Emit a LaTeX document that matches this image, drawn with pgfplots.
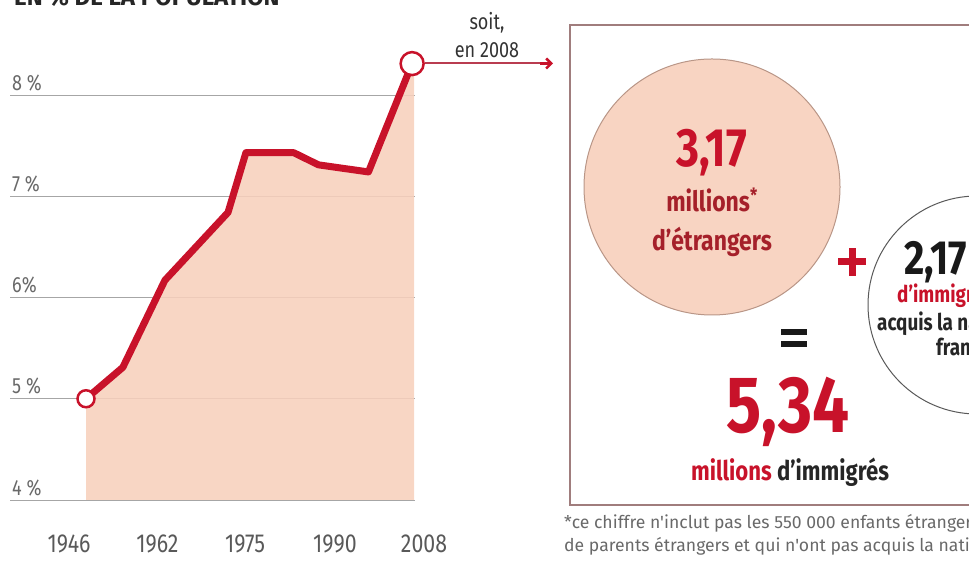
\documentclass[border=0pt]{standalone}
\usepackage{pgfplots}
\pgfplotsset{compat=1.18}
\usepackage{fontspec}
\setmainfont{Fira Sans}[FakeStretch=0.82]
\newfontfamily\widefont{Fira Sans}
\usetikzlibrary{arrows.meta}
\definecolor{myred}{RGB}{200,18,42}
\definecolor{peach}{RGB}{247,208,188}
\definecolor{circfill}{RGB}{248,212,194}
\definecolor{dred}{RGB}{165,32,42}
\definecolor{txtgrey}{RGB}{105,105,105}
\definecolor{framec}{RGB}{160,125,125}
\newcommand{\fs}[1]{\fontsize{#1bp}{#1bp}\selectfont}

\begin{document}
\begin{tikzpicture}[x=1bp,y=1bp]
\begin{axis}[
  at={(10bp,64bp)}, anchor=south west,
  scale only axis, width=405bp, height=405bp,
  xmin=1931.55, xmax=2008.55, ymin=4, ymax=8,
  axis line style={draw=none},
  xtick=\empty,
  ytick={4,5,6,7,8},
  yticklabels={4 \%,5 \%,6\%,7 \%,8 \%},
  major tick length=0pt,
  ymajorgrids,
  grid style={draw=gray!70, line width=0.9bp},
  yticklabel style={anchor=south west, inner sep=0pt, xshift=2bp, yshift=4bp, font=\fs{22}, text=txtgrey},
  clip=false,
]
\addplot[fill=peach, fill opacity=0.88, draw=none] coordinates {
  (1946,4) (1946,5.0) (1953,5.31) (1961,6.17) (1973,6.84) (1976.4,7.43)
  (1985.5,7.43) (1990.2,7.31) (1999.7,7.24) (2008,8.31) (2008.4,8.31) (2008.4,4)
} -- cycle;
\addplot[myred, line width=7bp, line join=round] coordinates {
  (1946,5.0) (1953,5.31) (1961,6.17) (1973,6.84) (1976.4,7.43)
  (1985.5,7.43) (1990.2,7.31) (1999.7,7.24) (2008,8.31)
};
\addplot[only marks, mark=*, mark size=8.5bp, mark options={fill=white, draw=myred, line width=2.5bp}] coordinates {(1946,5.0)};
\addplot[only marks, mark=*, mark size=11.5bp, mark options={fill=white, draw=myred, line width=2.5bp}] coordinates {(2008,8.31)};
\end{axis}

\pgfresetboundingbox
\useasboundingbox (0,0) rectangle (969,564);
\clip (0,0) rectangle (969,564);

% title (cut at top)
\node[anchor=base west, font=\widefont\fs{24}\bfseries, text=black!85, inner sep=0pt] at (14,558) {EN \% DE LA POPULATION};

% year labels
\foreach \px/\lab in {69/1946, 157.5/1962, 245/1975, 335/1990, 424/2008}{
  \node[font=\fs{26}, text=black!65] at (\px,20) {\lab};
}

% arrow to the box
\draw[color={rgb,255:red,185;green,60;blue,80}, line width=2bp] (425,500.5) -- (548,500.5);
\draw[myred, line width=2.5bp, -{Straight Barb[length=5bp,width=10bp]}] (540,500.5) -- (553,500.5);
\node[font=\fs{22}, text=black!80] at (487,541) {soit,};
\node[font=\fs{22}, text=black!80] at (487,514) {en 2008};

% frame
\draw[framec, line width=2bp] (570,59) rectangle (990,539);

% big circle
\draw[fill=circfill, draw={rgb,255:red,185;green,150;blue,135}, line width=1bp] (712,377) circle (128);
\node[font=\fs{54}\bfseries, text=myred] at (712,411) {3,17};
\node[font=\fs{28}\bfseries, text=dred] at (712,364) {millions\textsuperscript{*}};
\node[font=\fs{28}\bfseries, text=dred] at (712,322) {d'étrangers};

% plus
\draw[myred, line width=7bp] (838,302) -- (866,302) (852,288) -- (852,316);

% second circle
\draw[fill=white, draw=black!65, line width=1bp] (977,259) circle (109);
\node[anchor=west, font=\fs{48}\bfseries, text=black!90, inner sep=0pt] at (904,302) {2,17};
\node[anchor=west, font=\fs{23}\bfseries, text=myred, inner sep=0pt] at (897,269) {d'immigrés};
\node[anchor=west, font=\fs{23}\bfseries, text=black!85, inner sep=0pt] at (877,241) {acquis la nationalité};
\node[anchor=west, font=\fs{23}\bfseries, text=black!85, inner sep=0pt] at (936,215) {française};

% equals
\draw[black!90, line width=5.5bp] (781,232) -- (807,232) (781,220) -- (807,220);

% total
\node[font=\fs{80}\bfseries, text=myred] at (788,152) {5,34};
\node[font=\fs{27}\bfseries] at (790,92) {\textcolor{myred}{millions} \textcolor{black!85}{d'immigrés}};

% footnote
\node[anchor=west, font=\widefont\fs{17.6}, text=txtgrey, inner sep=0pt] at (564,41) {*ce chiffre n'inclut pas les 550 000 enfants étrangers};
\node[anchor=west, font=\widefont\fs{17.6}, text=txtgrey, inner sep=0pt] at (564,18) {de parents étrangers et qui n'ont pas acquis la nationalité};
\end{tikzpicture}
\end{document}
